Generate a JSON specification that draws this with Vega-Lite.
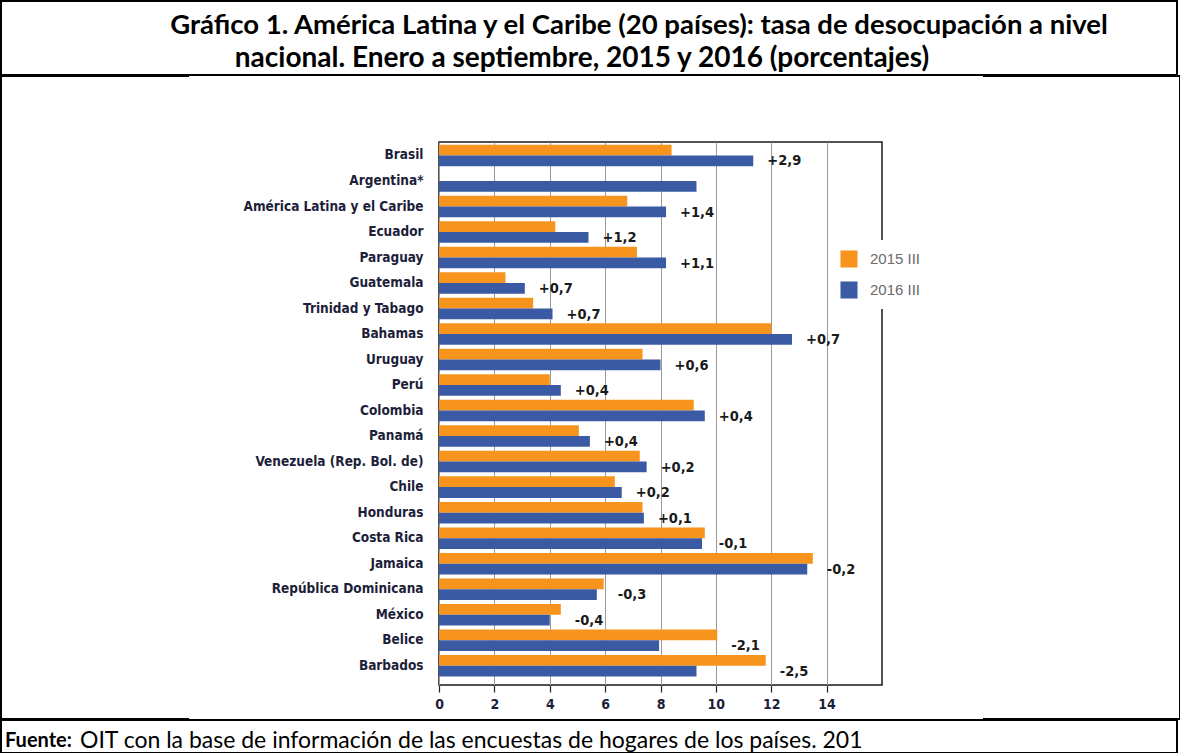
{
  "$schema": "https://vega.github.io/schema/vega-lite/v6.json",
  "background": "white",
  "padding": 0,
  "spacing": -2,
  "config": {
    "view": {"stroke": "#000000", "strokeWidth": 2},
    "font": "Liberation Sans"
  },
  "datasets": {
    "tasas": [
      {"pais": "Brasil", "periodo": "2015 III", "tasa": 8.4},
      {"pais": "Brasil", "periodo": "2016 III", "tasa": 11.35, "cambio": "+2,9"},
      {"pais": "Argentina*", "periodo": "2016 III", "tasa": 9.3},
      {"pais": "América Latina y el Caribe", "periodo": "2015 III", "tasa": 6.8},
      {"pais": "América Latina y el Caribe", "periodo": "2016 III", "tasa": 8.2, "cambio": "+1,4"},
      {"pais": "Ecuador", "periodo": "2015 III", "tasa": 4.2},
      {"pais": "Ecuador", "periodo": "2016 III", "tasa": 5.4, "cambio": "+1,2"},
      {"pais": "Paraguay", "periodo": "2015 III", "tasa": 7.15},
      {"pais": "Paraguay", "periodo": "2016 III", "tasa": 8.2, "cambio": "+1,1"},
      {"pais": "Guatemala", "periodo": "2015 III", "tasa": 2.4},
      {"pais": "Guatemala", "periodo": "2016 III", "tasa": 3.1, "cambio": "+0,7"},
      {"pais": "Trinidad y Tabago", "periodo": "2015 III", "tasa": 3.4},
      {"pais": "Trinidad y Tabago", "periodo": "2016 III", "tasa": 4.1, "cambio": "+0,7"},
      {"pais": "Bahamas", "periodo": "2015 III", "tasa": 12.0},
      {"pais": "Bahamas", "periodo": "2016 III", "tasa": 12.75, "cambio": "+0,7"},
      {"pais": "Uruguay", "periodo": "2015 III", "tasa": 7.35},
      {"pais": "Uruguay", "periodo": "2016 III", "tasa": 8.0, "cambio": "+0,6"},
      {"pais": "Perú", "periodo": "2015 III", "tasa": 4.0},
      {"pais": "Perú", "periodo": "2016 III", "tasa": 4.4, "cambio": "+0,4"},
      {"pais": "Colombia", "periodo": "2015 III", "tasa": 9.2},
      {"pais": "Colombia", "periodo": "2016 III", "tasa": 9.6, "cambio": "+0,4"},
      {"pais": "Panamá", "periodo": "2015 III", "tasa": 5.05},
      {"pais": "Panamá", "periodo": "2016 III", "tasa": 5.45, "cambio": "+0,4"},
      {"pais": "Venezuela (Rep. Bol. de)", "periodo": "2015 III", "tasa": 7.25},
      {"pais": "Venezuela (Rep. Bol. de)", "periodo": "2016 III", "tasa": 7.5, "cambio": "+0,2"},
      {"pais": "Chile", "periodo": "2015 III", "tasa": 6.35},
      {"pais": "Chile", "periodo": "2016 III", "tasa": 6.6, "cambio": "+0,2"},
      {"pais": "Honduras", "periodo": "2015 III", "tasa": 7.35},
      {"pais": "Honduras", "periodo": "2016 III", "tasa": 7.4, "cambio": "+0,1"},
      {"pais": "Costa Rica", "periodo": "2015 III", "tasa": 9.6},
      {"pais": "Costa Rica", "periodo": "2016 III", "tasa": 9.5, "cambio": "-0,1"},
      {"pais": "Jamaica", "periodo": "2015 III", "tasa": 13.5},
      {"pais": "Jamaica", "periodo": "2016 III", "tasa": 13.3, "cambio": "-0,2"},
      {"pais": "República Dominicana", "periodo": "2015 III", "tasa": 5.95},
      {"pais": "República Dominicana", "periodo": "2016 III", "tasa": 5.7, "cambio": "-0,3"},
      {"pais": "México", "periodo": "2015 III", "tasa": 4.4},
      {"pais": "México", "periodo": "2016 III", "tasa": 4.0, "cambio": "-0,4"},
      {"pais": "Belice", "periodo": "2015 III", "tasa": 10.05},
      {"pais": "Belice", "periodo": "2016 III", "tasa": 7.95, "cambio": "-2,1"},
      {"pais": "Barbados", "periodo": "2015 III", "tasa": 11.8},
      {"pais": "Barbados", "periodo": "2016 III", "tasa": 9.3, "cambio": "-2,5"}
    ]
  },
  "vconcat": [
    {
      "width": 1176,
      "height": 74,
      "view": {"stroke": "#000000", "strokeWidth": 2},
      "data": {"values": [
        {"n": 1, "linea": "Gráfico 1. América Latina y el Caribe (20 países): tasa de desocupación a nivel"},
        {"n": 2, "linea": "nacional. Enero a septiembre, 2015 y 2016 (porcentajes)"}
      ]},
      "layer": [
        {
          "transform": [{"filter": "datum.n == 1"}],
          "mark": {"type": "text", "font": "Lato", "fontWeight": "bold", "fontSize": 27.5, "align": "center", "baseline": "middle", "dx": 50, "dy": -12.5, "color": "#000000"},
          "encoding": {"text": {"field": "linea"}}
        },
        {
          "transform": [{"filter": "datum.n == 2"}],
          "mark": {"type": "text", "font": "Lato", "fontWeight": "bold", "fontSize": 28, "align": "center", "baseline": "middle", "dx": -7, "dy": 21, "color": "#000000"},
          "encoding": {"text": {"field": "linea"}}
        }
      ]
    },
    {
      "hconcat": [
        {
          "width": 188,
          "height": 643,
          "view": {"stroke": "#000000", "strokeWidth": 2, "strokeDash": [188, 643, 831, 1]},
          "data": {"values": [{"vacio": ""}]},
          "mark": {"type": "text"},
          "encoding": {"text": {"field": "vacio"}}
        },
        {
          "spacing": 0,
          "vconcat": [
            {
              "width": 443,
              "height": 65,
              "view": {"stroke": null},
              "data": {"values": [{"vacio": ""}]},
              "mark": {"type": "text"},
              "encoding": {"text": {"field": "vacio"}}
            },
            {
              "width": 443,
              "height": 543,
              "view": {"stroke": "#1a1a1a", "strokeWidth": 1.5},
              "data": {"name": "tasas"},
              "layer": [
                {
                  "mark": {"type": "bar"},
                  "encoding": {
                    "y": {
                      "field": "pais", "type": "nominal",
                      "scale": {
                        "domain": ["Brasil", "Argentina*", "América Latina y el Caribe", "Ecuador", "Paraguay", "Guatemala", "Trinidad y Tabago", "Bahamas", "Uruguay", "Perú", "Colombia", "Panamá", "Venezuela (Rep. Bol. de)", "Chile", "Honduras", "Costa Rica", "Jamaica", "República Dominicana", "México", "Belice", "Barbados"],
                        "paddingInner": 0.157, "paddingOuter": 0.2215, "align": 0.243
                      },
                      "axis": {
                        "orient": "left", "title": null, "ticks": false, "domain": false, "grid": false,
                        "labelFont": "Liberation Sans Narrow, DejaVu Sans Condensed, sans-serif",
                        "labelFontWeight": "bold", "labelFontSize": 13.5, "labelColor": "#1d1e3a",
                        "labelPadding": 16, "labelLimit": 240, "minExtent": 250, "maxExtent": 250
                      }
                    },
                    "yOffset": {"field": "periodo", "type": "nominal", "scale": {"domain": ["2015 III", "2016 III"], "paddingInner": 0, "paddingOuter": 0}},
                    "x": {
                      "field": "tasa", "type": "quantitative",
                      "scale": {"domain": [0, 16], "nice": false},
                      "axis": {
                        "orient": "bottom", "title": null, "domain": false,
                        "values": [0, 2, 4, 6, 8, 10, 12, 14],
                        "grid": true, "gridColor": "#9a9a9a", "gridWidth": 1,
                        "ticks": true, "tickSize": 7, "tickColor": "#222222", "tickWidth": 1.2,
                        "labelFont": "Liberation Sans Narrow, DejaVu Sans Condensed, sans-serif",
                        "labelFontWeight": "bold", "labelFontSize": 14, "labelColor": "#1d1e3a",
                        "labelPadding": 5, "labelFlush": false
                      }
                    },
                    "color": {
                      "field": "periodo", "type": "nominal",
                      "scale": {"domain": ["2015 III", "2016 III"], "range": ["#F7941D", "#3A5BA3"]},
                      "legend": {
                        "title": null, "orient": "none", "legendX": 829, "legendY": 239,
                        "direction": "vertical", "fillColor": "#ffffff", "padding": 10,
                        "symbolType": "square", "symbolSize": 290, "symbolStrokeWidth": 0,
                        "labelFont": "Liberation Sans", "labelFontSize": 15, "labelColor": "#6b6b6b",
                        "rowPadding": 13, "labelOffset": 12
                      }
                    }
                  }
                },
                {
                  "transform": [
                    {"joinaggregate": [{"op": "max", "field": "tasa", "as": "maximo"}], "groupby": ["pais"]},
                    {"filter": "isValid(datum.cambio)"}
                  ],
                  "mark": {"type": "text", "align": "left", "baseline": "middle", "dx": 14, "dy": 6,
                           "font": "Liberation Sans Narrow, DejaVu Sans Condensed, sans-serif",
                           "fontWeight": "bold", "fontSize": 14.5, "color": "#1a1a1a"},
                  "encoding": {
                    "y": {
                      "field": "pais", "type": "nominal",
                      "axis": {"orient": "right", "title": null, "labels": false, "ticks": false, "domain": false, "grid": false, "minExtent": 100, "maxExtent": 100}
                    },
                    "x": {"field": "maximo", "type": "quantitative", "axis": null},
                    "text": {"field": "cambio"}
                  }
                }
              ],
              "resolve": {"axis": {"x": "independent", "y": "independent"}}
            }
          ]
        },
        {
          "width": 197,
          "height": 643,
          "view": {"stroke": "#000000", "strokeWidth": 2, "strokeDash": [1037, 643]},
          "data": {"values": [{"vacio": ""}]},
          "mark": {"type": "text"},
          "encoding": {"text": {"field": "vacio"}}
        }
      ],
      "spacing": -2
    },
    {
      "width": 1176,
      "height": 33,
      "view": {"stroke": "#000000", "strokeWidth": 2},
      "data": {"values": [
        {"n": 1, "texto": "Fuente:"},
        {"n": 2, "texto": "OIT con la base de información de las encuestas de hogares de los países. 201"}
      ]},
      "layer": [
        {
          "transform": [{"filter": "datum.n == 1"}],
          "mark": {"type": "text", "font": "Lato", "fontWeight": "bold", "fontSize": 20, "align": "left", "baseline": "middle", "dx": -584, "dy": 4, "color": "#000000"},
          "encoding": {"text": {"field": "texto"}}
        },
        {
          "transform": [{"filter": "datum.n == 2"}],
          "mark": {"type": "text", "font": "Lato", "fontSize": 23, "align": "left", "baseline": "middle", "dx": -509, "dy": 4, "color": "#000000"},
          "encoding": {"text": {"field": "texto"}}
        }
      ]
    }
  ]
}
